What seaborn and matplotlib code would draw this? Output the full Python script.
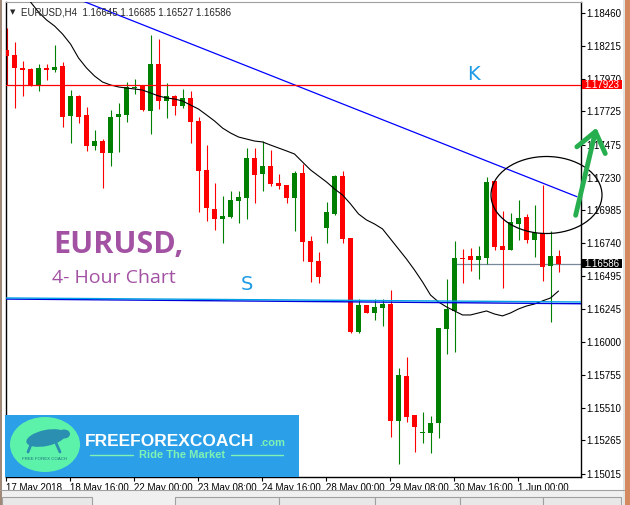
import numpy as np
import pandas as pd
import matplotlib
matplotlib.use("Agg")
import matplotlib.pyplot as plt
from matplotlib.patches import Rectangle, Ellipse, FancyArrowPatch
import seaborn as sns

# EURUSD H4 bars, 17 May 2018 08:00 .. 1 Jun 2018 20:00 (70 bars)
opens = [1.18183, 1.18146, 1.18047, 1.18041, 1.17917, 1.18049, 1.18034, 1.18064, 1.17692, 1.17840,
         1.17698, 1.17468, 1.17503, 1.17411, 1.17685, 1.17698, 1.17899, 1.17914, 1.17730, 1.18081,
         1.17804, 1.17840, 1.17767, 1.17827, 1.17653, 1.17287, 1.16995, 1.16920, 1.16938, 1.17057,
         1.17080, 1.17376, 1.17259, 1.17316, 1.17189, 1.17174, 1.17080, 1.17264, 1.16756, 1.16607,
         1.16851, 1.16960, 1.17242, 1.16776, 1.16074, 1.16278, 1.16216, 1.16258, 1.16285, 1.15413,
         1.15747, 1.15456, 1.15323, 1.15323, 1.15394, 1.16098, 1.16235, 1.16631, 1.16644, 1.16614,
         1.16631, 1.17204, 1.16719, 1.16689, 1.16883, 1.16933, 1.16763, 1.16814, 1.16569, 1.16645]
highs = [1.18348, 1.18245, 1.18101, 1.18049, 1.18079, 1.18079, 1.18221, 1.18094, 1.17884, 1.17847,
         1.17757, 1.17586, 1.17518, 1.17735, 1.17787, 1.17946, 1.17967, 1.17918, 1.18295, 1.18266,
         1.17939, 1.17847, 1.17892, 1.17879, 1.17683, 1.17473, 1.17192, 1.17092, 1.17132, 1.17130,
         1.17449, 1.17449, 1.17503, 1.17436, 1.17257, 1.17174, 1.17281, 1.17331, 1.16793, 1.16676,
         1.17047, 1.17249, 1.17281, 1.16781, 1.16323, 1.16278, 1.16323, 1.16323, 1.16390, 1.15805,
         1.15887, 1.15456, 1.15476, 1.15450, 1.16108, 1.16472, 1.16756, 1.16696, 1.16701, 1.16719,
         1.17237, 1.17204, 1.16980, 1.16963, 1.17062, 1.16958, 1.17025, 1.17174, 1.16831, 1.16685]
lows = [1.17922, 1.17752, 1.17840, 1.17917, 1.17879, 1.17959, 1.18021, 1.17610, 1.17491, 1.17640,
        1.17431, 1.17436, 1.17154, 1.17319, 1.17423, 1.17648, 1.17855, 1.17731, 1.17558, 1.17742,
        1.17677, 1.17698, 1.17750, 1.17491, 1.16975, 1.16908, 1.16838, 1.16743, 1.16928, 1.16893,
        1.16923, 1.17042, 1.17132, 1.17169, 1.17142, 1.17042, 1.16831, 1.16609, 1.16452, 1.16440,
        1.16743, 1.16950, 1.16743, 1.16066, 1.16066, 1.16216, 1.16166, 1.16123, 1.15294, 1.15087,
        1.15406, 1.15181, 1.15244, 1.15169, 1.15282, 1.15909, 1.15929, 1.16440, 1.16534, 1.16470,
        1.16582, 1.16689, 1.16403, 1.16689, 1.16763, 1.16739, 1.16639, 1.16459, 1.16153, 1.16527]
closes = [1.18139, 1.18051, 1.18034, 1.17922, 1.18047, 1.18034, 1.18056, 1.17685, 1.17840, 1.17685,
          1.17468, 1.17503, 1.17411, 1.17683, 1.17705, 1.17907, 1.17909, 1.17733, 1.18081, 1.17804,
          1.17840, 1.17767, 1.17827, 1.17648, 1.17281, 1.17000, 1.16920, 1.16943, 1.17062, 1.17085,
          1.17376, 1.17249, 1.17316, 1.17182, 1.17169, 1.17080, 1.17264, 1.16751, 1.16597, 1.16489,
          1.16973, 1.17242, 1.16769, 1.16074, 1.16278, 1.16216, 1.16261, 1.16285, 1.15413, 1.15755,
          1.15443, 1.15368, 1.15329, 1.15396, 1.16108, 1.16248, 1.16631, 1.16619, 1.16614, 1.16644,
          1.17195, 1.16713, 1.16689, 1.16900, 1.16926, 1.16763, 1.16818, 1.16564, 1.16644, 1.16586]

# moving average as shown on chart (starts at bar 3, earlier part is off the top)
ma_first_bar = 3
ma_vals = [1.18542, 1.18467, 1.18408, 1.18363, 1.18303, 1.18228, 1.18124, 1.18049, 1.17989, 1.17944,
           1.17922, 1.17907, 1.17899, 1.17892, 1.17884, 1.17862, 1.17840, 1.17825, 1.17817, 1.17802,
           1.17772, 1.17742, 1.17698, 1.17653, 1.17600, 1.17563, 1.17533, 1.17518, 1.17503, 1.17496,
           1.17473, 1.17451, 1.17429, 1.17406, 1.17346, 1.17287, 1.17242, 1.17197, 1.17145, 1.17100,
           1.17033, 1.16958, 1.16913, 1.16883, 1.16846, 1.16771, 1.16696, 1.16621, 1.16539, 1.16450,
           1.16352, 1.16300, 1.16263, 1.16233, 1.16203, 1.16203, 1.16218, 1.16233, 1.16210, 1.16196,
           1.16218, 1.16248, 1.16270, 1.16285, 1.16308, 1.16330, 1.16382]

# drawn objects (bar index, price)
trend_start = (9.2, 1.18557)
trend_end = (71.3, 1.17087)
resistance = 1.17923
bid_price = 1.16586
bid_from_bar = 56
support_light = (1.16330, 1.16300)
support_dark = (1.16322, 1.16287)

yticks = [1.18460, 1.18215, 1.17970, 1.17725, 1.17475, 1.17230, 1.16985, 1.16740,
          1.16495, 1.16245, 1.16000, 1.15755, 1.15510, 1.15265, 1.15015]
xtick_bars = [0, 8, 16, 24, 32, 40, 48, 56, 64]
xtick_labels = ["17 May 2018", "18 May 16:00", "22 May 00:00", "23 May 08:00", "24 May 16:00",
                "28 May 00:00", "29 May 08:00", "30 May 16:00", "1 Jun 00:00"]

sns.set_style("white")
plt.rcParams['font.family'] = ['Liberation Sans', 'DejaVu Sans']

fig = plt.figure(figsize=(6.3, 5.05), dpi=100)
ax = fig.add_axes([6 / 630, 1 - 477 / 505, 575 / 630, 475 / 505])

df = pd.DataFrame({"bar": np.arange(len(opens)), "open": opens, "high": highs,
                   "low": lows, "close": closes})
cols = np.where(df["close"] >= df["open"], "#008000", "#ff0000")
ax.vlines(df["bar"], df["low"], df["high"], colors=cols, lw=0.8, zorder=2)
body_lo = np.minimum(df["open"], df["close"])
body_h = np.maximum(np.abs(df["close"] - df["open"]), 0.00008)
ax.bar(df["bar"], body_h, bottom=body_lo, width=0.62, color=cols, linewidth=0, zorder=3)

ma_df = pd.DataFrame({"bar": np.arange(ma_first_bar, ma_first_bar + len(ma_vals)), "ma": ma_vals})
sns.lineplot(data=ma_df, x="bar", y="ma", color="black", lw=0.8, ax=ax, zorder=4)

x0, x1 = -0.0625, 71.81
ax.plot([trend_start[0], trend_end[0]], [trend_start[1], trend_end[1]], color="#0000ff", lw=0.9, zorder=5)
ax.axhline(resistance, color="#ff0000", lw=0.9, zorder=5)
ax.plot([bid_from_bar, x1], [bid_price, bid_price], color="#778899", lw=0.9, zorder=1)
ax.plot([x0, x1], list(support_dark), color="#0000dd", lw=1.0, zorder=5)
ax.plot([x0, x1], list(support_light), color="#00a0e6", lw=1.0, zorder=6)

ax.set_xlim(x0, x1)
ax.set_ylim(1.14992, 1.18542)
ax.yaxis.tick_right()
ax.set_yticks(yticks)
ax.set_yticklabels([f"{v:.5f}" for v in yticks])
ax.set_xticks([b - 0.06 for b in xtick_bars])
ax.set_xticklabels(xtick_labels)
for lbl in ax.get_xticklabels():
    lbl.set_horizontalalignment("left")
ax.tick_params(axis="y", direction="out", length=3, width=0.8, pad=1, labelsize=7,
               colors="black", right=True, left=False)
ax.tick_params(axis="x", direction="out", length=3, width=0.8, pad=1.5, labelsize=7,
               colors="black", bottom=True)
ax.set_xlabel("")
ax.set_ylabel("")
for s in ["left", "right", "bottom"]:
    ax.spines[s].set_color("black")
    ax.spines[s].set_linewidth(1)
ax.spines["top"].set_color("#a0a0a0")
ax.spines["top"].set_linewidth(0.8)

# price labels on the right scale
ytr = ax.get_yaxis_transform()
for price, fc in [(resistance, "#ff0000"), (bid_price, "black")]:
    ax.add_patch(Rectangle((1.0015, price - 0.00033), 0.070, 0.00066, transform=ytr,
                           facecolor=fc, edgecolor="none", clip_on=False, zorder=10))
    ax.text(1.0065, price, f"{price:.5f}", transform=ytr, color="white", fontsize=7,
            va="center", ha="left", clip_on=False, zorder=11)

# overlay in pixel space for the annotations
ov = fig.add_axes([0, 0, 1, 1], zorder=5)
ov.set_xlim(0, 630)
ov.set_ylim(505, 0)
ov.axis("off")
ov.patch.set_alpha(0)

ov.text(13, 12.5, "\u25bc", fontsize=5, ha="center", va="center", family=["DejaVu Sans"])
ov.text(21, 12.5, f"EURUSD,H4  {opens[-1]:.5f} {highs[-1]:.5f} {lows[-1]:.5f} {closes[-1]:.5f}",
        fontsize=7, ha="left", va="center")

ov.text(473, 75, "K", color="#1e9be6", fontsize=14, ha="center", va="center", family=["DejaVu Sans"])
ov.text(247, 285, "S", color="#1e9be6", fontsize=14, ha="center", va="center", family=["DejaVu Sans"])
ov.text(53, 253, "EURUSD,", color="#a352a3", fontsize=22, fontweight="bold", ha="left",
        va="baseline", family=["Open Sans", "DejaVu Sans"])
ov.text(52, 283, "4- Hour Chart", color="#a352a3", fontsize=14, ha="left",
        va="baseline", family=["Open Sans", "DejaVu Sans"])

ov.add_patch(Ellipse((546.5, 195), 111, 77, fill=False, edgecolor="black", lw=0.9))
ov.add_patch(FancyArrowPatch((575, 218), (597, 125), arrowstyle="->,head_length=0.55,head_width=0.42",
                             mutation_scale=25, color="#27ae4f", lw=3.5, capstyle="round"))

# logo
ov.add_patch(Rectangle((5, 415), 294, 62, facecolor="#2ba0e9", edgecolor="none"))
ov.add_patch(Ellipse((45, 444.5), 70, 55, facecolor="#5df2a9", edgecolor="none"))
ov.add_patch(Ellipse((46, 438), 40, 16, angle=-12, facecolor="#2a8fb0", edgecolor="none"))
ov.add_patch(Ellipse((64, 434), 12, 9, facecolor="#2a8fb0", edgecolor="none"))
ov.plot([32, 28], [442, 452], color="#2a8fb0", lw=2)
ov.plot([56, 60], [443, 452], color="#2a8fb0", lw=2)
ov.text(45, 459, "FREE FOREX COACH", color="#1f6f80", fontsize=3.2, ha="center", va="center")
ov.text(85, 446, "FREEFOREXCOACH", color="white", fontsize=12.5, fontweight="bold",
        ha="left", va="baseline")
ov.text(259, 446, ".com", color="#7ff2b4", fontsize=8, fontweight="bold", ha="left", va="baseline")
ov.text(182, 454.5, "Ride The Market", color="#7ff2b4", fontsize=8, fontweight="bold",
        ha="center", va="center")
ov.plot([90, 133], [454.5, 454.5], color="#7ff2b4", lw=1)
ov.plot([231, 283], [454.5, 454.5], color="#7ff2b4", lw=1)

# window frame bits
ov.add_patch(Rectangle((0, 490), 630, 15, facecolor="#f0f0f0", edgecolor="none"))
ov.plot([0, 624], [490, 490], color="#a0a0a0", lw=0.8)
for tx, tw in [(2, 90), (175, 104), (279, 96), (375, 85), (460, 83), (543, 78)]:
    ov.add_patch(Rectangle((tx, 497), tw, 10, facecolor="#e8e8e8", edgecolor="#a0a0a0", lw=0.8))
ov.add_patch(Rectangle((622.5, 0), 2, 505, facecolor="#e4e4e4", edgecolor="none"))
ov.add_patch(Rectangle((624.5, 0), 5.5, 505, facecolor="#d4895f", edgecolor="none"))
ov.add_patch(Rectangle((0, 0), 2, 505, facecolor="#a08878", edgecolor="none"))

fig.savefig("out.png", dpi=100)
